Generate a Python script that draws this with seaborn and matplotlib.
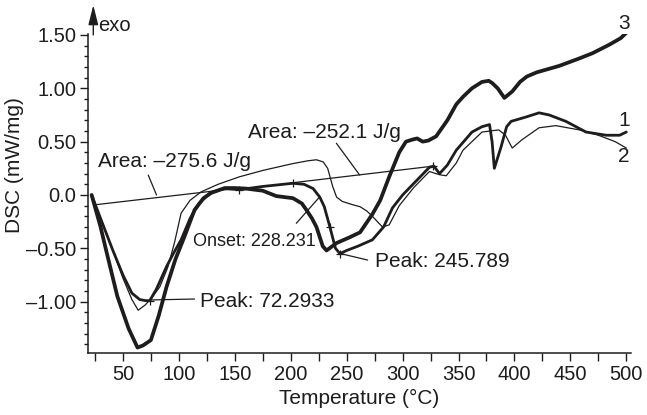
import matplotlib
matplotlib.use("Agg")
import matplotlib.pyplot as plt
import seaborn as sns

# ---------------- data ----------------
temp_1 = [22, 30, 41, 50, 58, 65, 70, 74, 80, 89, 95, 102, 110, 118, 128, 140, 154,
          175, 202, 212, 220, 226, 230, 235, 240, 244, 250, 260, 273, 283, 291, 300,
          312, 324, 328, 333, 340, 348, 362, 371, 377.7, 380, 382, 388, 393, 397, 410,
          422, 431, 446, 464, 482, 494, 500]
dsc_1 = [0.0, -0.22, -0.52, -0.75, -0.92, -0.98, -0.99, -0.99, -0.88, -0.67, -0.55,
         -0.42, -0.22, -0.08, 0.02, 0.06, 0.05, 0.08, 0.11, 0.10, 0.06, -0.02, -0.11,
         -0.30, -0.50, -0.55, -0.52, -0.48, -0.42, -0.30, -0.12, 0.0, 0.13, 0.26, 0.27,
         0.20, 0.28, 0.42, 0.59, 0.64, 0.66, 0.50, 0.25, 0.45, 0.64, 0.69, 0.73, 0.77,
         0.75, 0.69, 0.59, 0.56, 0.56, 0.59]

temp_2 = [22, 30, 41, 50, 58, 63.6, 70, 76, 83, 90, 96, 102, 110, 120, 135, 154, 175,
          200, 215, 223, 229, 233, 237.5, 241, 246, 255, 262, 268, 273, 282, 288, 297,
          310, 324, 333, 339, 348, 354, 362, 371, 386, 392, 398, 407, 422, 437, 458,
          475, 490, 500]
dsc_2 = [0.0, -0.22, -0.52, -0.78, -0.98, -1.08, -1.03, -0.96, -0.86, -0.68, -0.45,
         -0.17, -0.05, 0.03, 0.10, 0.17, 0.23, 0.29, 0.32, 0.33, 0.31, 0.25, 0.08,
         -0.02, -0.06, -0.09, -0.11, -0.15, -0.20, -0.30, -0.28, -0.10, 0.07, 0.22,
         0.19, 0.18, 0.30, 0.42, 0.50, 0.59, 0.61, 0.56, 0.44, 0.52, 0.63, 0.65, 0.61,
         0.56, 0.50, 0.44]

temp_3 = [22, 30, 35, 45, 55, 63, 68, 75, 82, 89, 97, 105, 114, 122, 129, 141, 150,
          160, 175, 187, 202, 210, 214, 219, 223, 228.6, 232, 241, 252, 262, 273, 280,
          288, 297, 303, 309, 313, 318, 323, 330, 340, 348, 354, 362, 371, 377, 380,
          385, 391, 398, 405, 411, 420, 440, 458, 470, 485, 495, 500]
dsc_3 = [0.0, -0.30, -0.52, -0.95, -1.25, -1.43, -1.41, -1.36, -1.13, -0.86, -0.60,
         -0.39, -0.14, -0.03, 0.02, 0.065, 0.065, 0.06, 0.04, -0.01, -0.03, -0.08,
         -0.14, -0.22, -0.30, -0.48, -0.52, -0.45, -0.40, -0.35, -0.18, -0.05, 0.17,
         0.40, 0.50, 0.52, 0.53, 0.50, 0.51, 0.55, 0.70, 0.85, 0.92, 1.00, 1.06, 1.07,
         1.05, 1.00, 0.91, 0.97, 1.06, 1.11, 1.15, 1.21, 1.28, 1.33, 1.41, 1.47, 1.52]

baseline_1_t = [26.5, 154]
baseline_1_v = [-0.09, 0.065]
baseline_2_t = [202, 327]
baseline_2_v = [0.115, 0.27]

marker_t = [74, 154, 202, 327, 235, 244]
marker_v = [-0.99, 0.05, 0.115, 0.27, -0.30, -0.55]

x_ticks = [50, 100, 150, 200, 250, 300, 350, 400, 450, 500]
y_ticks = [1.5, 1.0, 0.5, 0.0, -0.5, -1.0]
y_tick_labels = ["1.50", "1.00", "0.50", "0.0", "\u20130.50", "\u20131.00"]

# ---------------- style ----------------
sns.set_style("ticks")
plt.rcParams['font.family'] = ['Liberation Sans', 'DejaVu Sans']
ink = "#1e1c1c"

fig = plt.figure(figsize=(6.47, 4.15), dpi=100)
ax = fig.add_axes([0.136, 0.1494, 0.8393, 0.7687])

sns.lineplot(x=temp_3, y=dsc_3, ax=ax, color=ink, linewidth=2.7, sort=False,
             estimator=None)
sns.lineplot(x=temp_1, y=dsc_1, ax=ax, color=ink, linewidth=2.0, sort=False,
             estimator=None)
sns.lineplot(x=temp_2, y=dsc_2, ax=ax, color=ink, linewidth=0.9, sort=False,
             estimator=None)
sns.lineplot(x=baseline_1_t, y=baseline_1_v, ax=ax, color=ink, linewidth=0.9,
             sort=False, estimator=None)
sns.lineplot(x=baseline_2_t, y=baseline_2_v, ax=ax, color=ink, linewidth=0.9,
             sort=False, estimator=None)
ax.scatter(marker_t, marker_v, marker="+", s=40, color=ink, linewidths=0.9, zorder=5)

ax.set_xlim(18.75, 504.2)
ax.set_ylim(-1.481, 1.509)

ax.set_xticks(x_ticks)
ax.set_xticks([t + 25 for t in [0] + x_ticks[:-1]], minor=True)
ax.set_yticks(y_ticks)
ax.set_yticklabels(y_tick_labels)
ax.set_yticks([round(-1.4 + 0.1 * i, 2) for i in range(30)], minor=True)

for side in ["top", "right"]:
    ax.spines[side].set_visible(False)
for side in ["left", "bottom"]:
    ax.spines[side].set_linewidth(1.1)
    ax.spines[side].set_color(ink)

ax.tick_params(axis="both", which="major", direction="out", length=5.5, width=1.0,
               color=ink, labelsize=14.5, labelcolor=ink, pad=3)
ax.tick_params(axis="y", which="minor", direction="out", length=3.2, width=1.0,
               color=ink)
ax.tick_params(axis="x", which="minor", direction="out", length=5.5, width=1.0,
               color=ink)

ax.set_xlabel("Temperature (\u00b0C)", fontsize=15, color=ink, labelpad=4)
ax.set_ylabel("DSC (mW/mg)", fontsize=15, color=ink)
ax.yaxis.set_label_coords(-0.118, 0.589)

# ---------------- annotations ----------------
ax.annotate("", xy=(23.5, 1.78), xytext=(23.5, 1.50), annotation_clip=False,
            arrowprops=dict(arrowstyle="-|>,head_length=1.2,head_width=0.3",
                            color=ink, lw=1.0, shrinkA=0, shrinkB=0))
ax.text(28, 1.54, "exo", fontsize=14.5, color=ink, va="baseline", ha="left",
        clip_on=False)

ax.text(27.7, 0.265, "Area: \u2013275.6 J/g", fontsize=15, color=ink,
        va="baseline", ha="left")
ax.plot([72.6, 80], [0.187, 0.0], color=ink, lw=0.9)

ax.text(161.6, 0.534, "Area: \u2013252.1 J/g", fontsize=15, color=ink,
        va="baseline", ha="left")
ax.plot([240.8, 261.6], [0.485, 0.187], color=ink, lw=0.9)

ax.text(112.2, -0.478, "Onset: 228.231", fontsize=13, color=ink,
        va="baseline", ha="left")
ax.plot([205, 226], [-0.265, -0.016], color=ink, lw=0.9)

ax.text(275, -0.672, "Peak: 245.789", fontsize=15, color=ink,
        va="baseline", ha="left")
ax.plot([246, 268.75], [-0.553, -0.61], color=ink, lw=0.9)

ax.text(118.75, -1.047, "Peak: 72.2933", fontsize=15, color=ink,
        va="baseline", ha="left")
ax.plot([74, 114], [-0.984, -0.975], color=ink, lw=0.9)

ax.text(498, 0.70, "1", fontsize=15, color=ink, va="center", ha="center",
        clip_on=False)
ax.text(498, 0.36, "2", fontsize=15, color=ink, va="center", ha="center",
        clip_on=False)
ax.text(498, 1.61, "3", fontsize=15, color=ink, va="center", ha="center",
        clip_on=False)

fig.savefig("out.png", dpi=100)
